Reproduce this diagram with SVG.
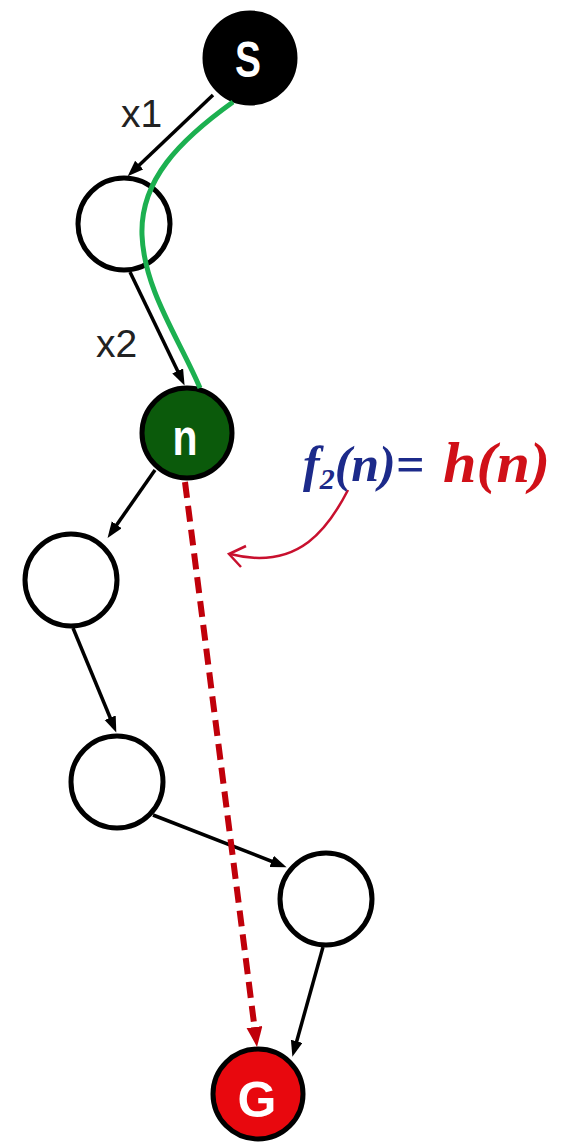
<svg xmlns="http://www.w3.org/2000/svg" width="566" height="1142" viewBox="0 0 566 1142">
<style>
.node{stroke:#000;stroke-width:5}
.empty{fill:#fff}
.edge{stroke:#000;stroke-width:3.5;fill:none}
.lbl{font-family:"Liberation Sans",Arial,sans-serif;font-weight:bold;fill:#fff;text-anchor:middle}
.xl{font-family:"Liberation Sans",Arial,sans-serif;font-size:39px;fill:#222}
.formula{font-family:"Liberation Serif","Times New Roman",serif;font-style:italic;font-weight:bold}
</style>
<defs>
<marker id="ab" markerUnits="userSpaceOnUse" markerWidth="18" markerHeight="14" refX="10" refY="6" orient="auto">
<path d="M0,0 L16,6 L0,12 z" fill="#000"/>
</marker>
<marker id="ar" markerUnits="userSpaceOnUse" markerWidth="22" markerHeight="18" refX="12" refY="8" orient="auto">
<path d="M0,0 L20,8 L0,16 z" fill="#c0000a"/>
</marker>
</defs>
<rect width="566" height="1142" fill="#fff"/>
<g id="node-S">
<circle class="node" cx="250" cy="58" r="45" fill="#000"/>
<text class="lbl" x="248" y="77" font-size="50" textLength="26" lengthAdjust="spacingAndGlyphs">S</text>
</g>
<g id="node-1">
<circle class="node empty" cx="124" cy="224" r="46"/>
</g>
<g id="node-n">
<circle class="node" cx="187" cy="433" r="45" fill="#0b5a0b"/>
<text class="lbl" x="185" y="455" font-size="52" textLength="25" lengthAdjust="spacingAndGlyphs">n</text>
</g>
<g id="node-3">
<circle class="node empty" cx="71" cy="580" r="46"/>
</g>
<g id="node-4">
<circle class="node empty" cx="117" cy="782" r="46"/>
</g>
<g id="node-5">
<circle class="node empty" cx="326" cy="899" r="46"/>
</g>
<g id="node-G">
<circle class="node" cx="258" cy="1094" r="45" fill="#e8080e"/>
<text class="lbl" x="257" y="1117" font-size="50">G</text>
</g>
<g id="connectors">
<path class="edge" d="M213,95 L132,172" marker-end="url(#ab)"/>
<path class="edge" d="M130,272 L182,380" marker-end="url(#ab)"/>
<path class="edge" d="M155,470 L111,533" marker-end="url(#ab)"/>
<path class="edge" d="M73,628 L114,727" marker-end="url(#ab)"/>
<path class="edge" d="M153,815 L281,865" marker-end="url(#ab)"/>
<path class="edge" d="M323,947 L294,1051" marker-end="url(#ab)"/>
<path d="M185,482 L256,1039" stroke="#c0000a" stroke-width="6" stroke-dasharray="16 8" fill="none" marker-end="url(#ar)"/>
<path d="M233,102 C180,140 140,180 142,235 C144,290 180,340 200,388" stroke="#1cb050" stroke-width="5" fill="none"/>
<path d="M348,490 C330,525 300,572 230,554" stroke="#c8102e" stroke-width="2.5" fill="none"/>
<polyline points="246,546 229,554 241,567" stroke="#c8102e" stroke-width="2.5" fill="none"/>
</g>
<g id="labels">
<text class="xl" x="121" y="127">x1</text>
<text class="xl" x="96" y="357">x2</text>
<text class="formula" x="303" y="481" font-size="50" fill="#1c2a8a">f<tspan font-size="30" dy="8">2</tspan><tspan dy="-8">(n)=</tspan></text>
<text class="formula" x="443" y="482" font-size="56" fill="#d01018" textLength="107" lengthAdjust="spacingAndGlyphs">h(n)</text>
</g>
</svg>
